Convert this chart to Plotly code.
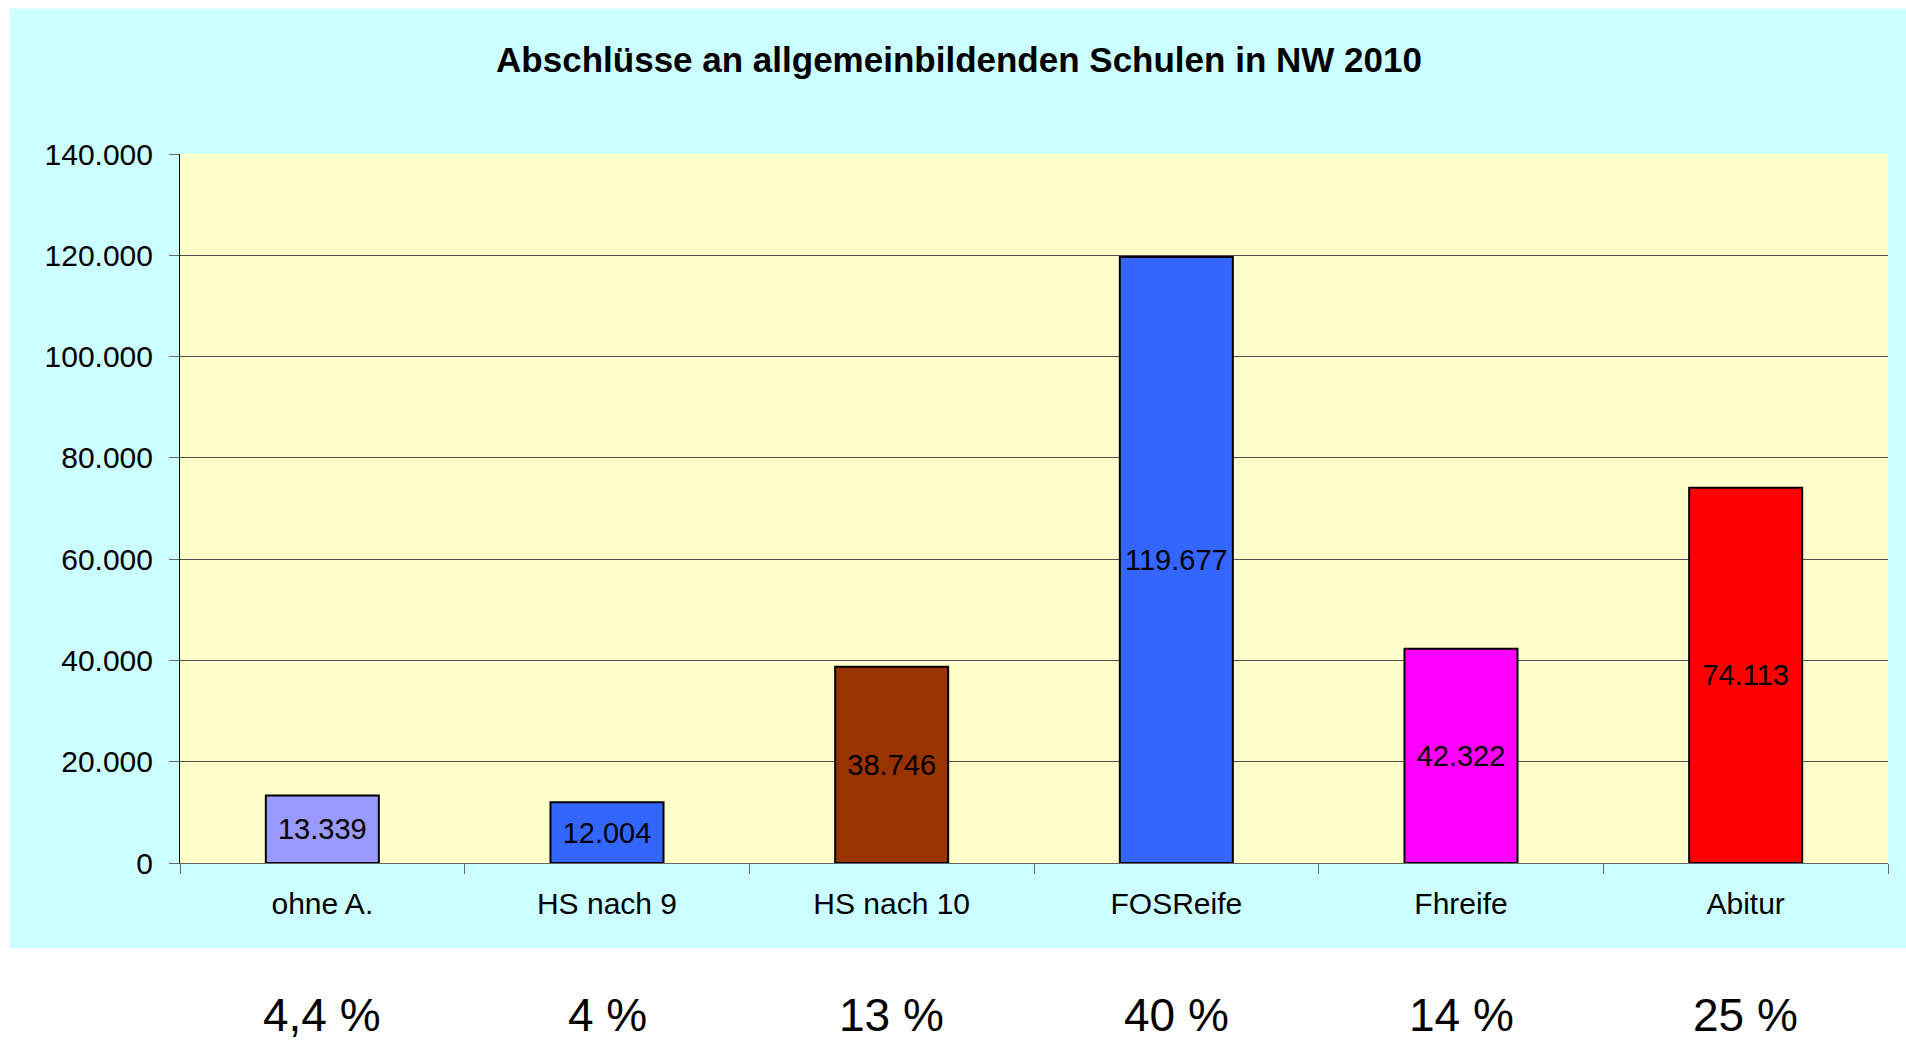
import plotly.graph_objects as go

categories = ["ohne A.", "HS nach 9", "HS nach 10", "FOSReife", "Fhreife", "Abitur"]
values = [13339, 12004, 38746, 119677, 42322, 74113]
bar_colors = ["#9999FF", "#3366FF", "#993300", "#3366FF", "#FF00FF", "#FF0000"]
percent_labels = ["4,4 %", "4 %", "13 %", "40 %", "14 %", "25 %"]
y_ticks = [0, 20000, 40000, 60000, 80000, 100000, 120000, 140000]
title_text = "Abschlüsse an allgemeinbildenden Schulen in NW 2010"

W, H = 1906, 1043
L, R, T, B = 180, 1888, 154, 863  # plot area in pixels

def px(x):
    return (x - L) / (R - L)

def py(y):
    return (B - y) / (B - T)

FONT = "Arial, Liberation Sans, sans-serif"

fig = go.Figure()
fig.add_trace(go.Bar(
    x=categories,
    y=values,
    marker=dict(color=bar_colors, line=dict(color="black", width=2)),
    texttemplate="%{y:,d}",
    textposition="inside",
    insidetextanchor="middle",
    textangle=0,
    textfont=dict(family=FONT, size=29, color="black"),
    hoverinfo="skip",
))

shapes = [
    # cyan chart panel
    dict(type="rect", xref="paper", yref="paper", layer="below",
         x0=px(10), x1=px(1910), y0=py(948), y1=py(8.5),
         fillcolor="#CCFFFF", line=dict(width=0)),
    # yellow plot area
    dict(type="rect", xref="paper", yref="paper", layer="below",
         x0=0, x1=1, y0=0, y1=1,
         fillcolor="#FFFFCC", line=dict(width=0)),
]

annotations = []
for c, p in zip(categories, percent_labels):
    annotations.append(dict(
        x=c, xref="x", y=py(1043), yref="paper",
        text=p, showarrow=False, yanchor="bottom", xanchor="center",
        font=dict(family=FONT, size=46, color="black"),
    ))

fig.update_layout(
    width=W, height=H,
    margin=dict(l=L, r=W - R, t=T, b=H - B, pad=0),
    paper_bgcolor="white",
    plot_bgcolor="rgba(0,0,0,0)",
    separators=",.",
    showlegend=False,
    bargap=0.603,
    title=dict(
        text=title_text,
        x=px(959), xref="paper", xanchor="center",
        y=1 - 60 / H, yref="container", yanchor="middle",
        font=dict(family=FONT, size=35, color="black", weight="bold"),
    ),
    shapes=shapes,
    annotations=annotations,
    font=dict(family=FONT, color="black"),
)

fig.update_yaxes(
    range=[0, 140000],
    tickvals=y_ticks,
    tickformat=",d",
    showgrid=True, gridcolor="#4d4d4d", gridwidth=1,
    zeroline=False,
    showline=True, linecolor="black", linewidth=1,
    ticks="outside", ticklen=10, tickcolor="#666666", tickwidth=1,
    ticklabelstandoff=10,
    tickfont=dict(family=FONT, size=30, color="black"),
)

fig.update_xaxes(
    showline=True, linecolor="#666666", linewidth=1,
    ticks="outside", tickson="boundaries", ticklen=10, tickcolor="#666666", tickwidth=1,
    showgrid=False,
    ticklabelstandoff=14,
    tickfont=dict(family=FONT, size=30, color="black"),
)

fig.write_html(
    "out.html",
    config={"displayModeBar": False},
    post_script="document.body.style.margin='0';document.body.style.overflow='hidden';",
)
